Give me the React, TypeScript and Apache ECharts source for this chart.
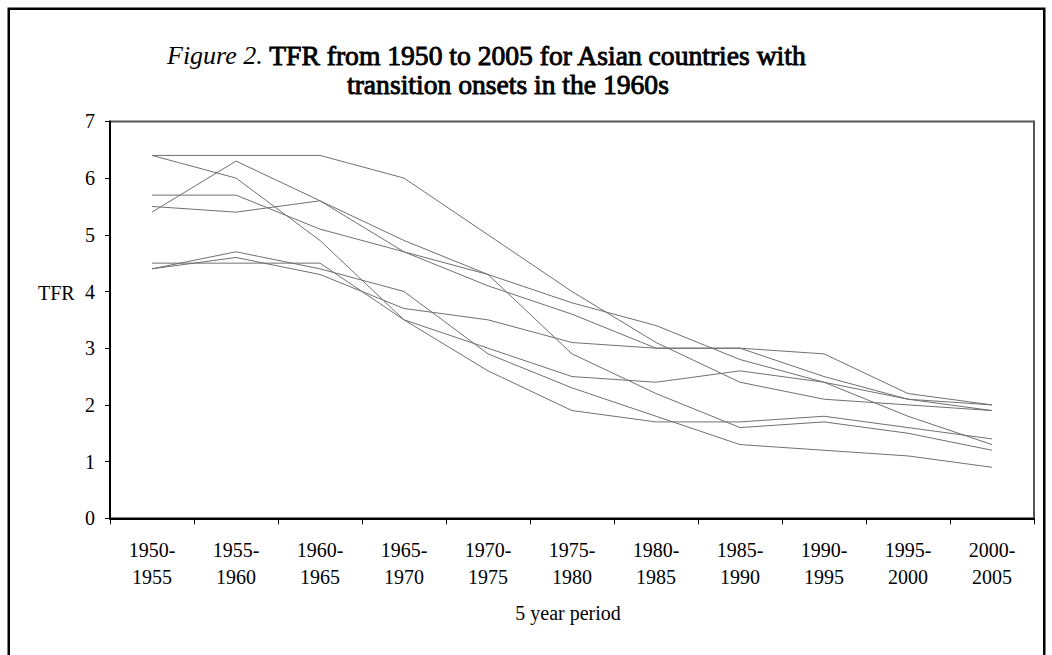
import React, { useEffect, useRef } from "react";
import * as echarts from "echarts";

const periods = [
  "1950-1955", "1955-1960", "1960-1965", "1965-1970", "1970-1975", "1975-1980",
  "1980-1985", "1985-1990", "1990-1995", "1995-2000", "2000-2005",
];
const yTicks = [0, 1, 2, 3, 4, 5, 6, 7];

const countryA = [6.4, 6.4, 6.4, 6.0, 5.0, 4.0, 3.1, 2.4, 2.1, 2.0, 1.9];
const countryB = [6.4, 6.0, 4.9, 3.5, 2.6, 1.9, 1.7, 1.7, 1.8, 1.6, 1.4];
const countryC = [5.4, 6.3, 5.6, 4.7, 4.3, 2.9, 2.2, 1.6, 1.7, 1.5, 1.2];
const countryD = [5.7, 5.7, 5.1, 4.7, 4.1, 3.6, 3.0, 3.0, 2.5, 2.1, 2.0];
const countryE = [5.5, 5.4, 5.6, 4.9, 4.3, 3.8, 3.4, 2.8, 2.4, 2.1, 1.9];
const countryF = [4.5, 4.5, 4.5, 3.5, 3.0, 2.5, 2.4, 2.6, 2.4, 1.8, 1.3];
const countryG = [4.4, 4.7, 4.4, 4.0, 2.9, 2.3, 1.8, 1.3, 1.2, 1.1, 0.9];
const countryH = [4.4, 4.6, 4.3, 3.7, 3.5, 3.1, 3.0, 3.0, 2.9, 2.2, 2.0];

const seriesList = [countryA, countryB, countryC, countryD, countryE, countryF, countryG, countryH];

const FONT = "'Liberation Serif', 'Times New Roman', serif";

export default function App() {
  const ref = useRef<HTMLDivElement>(null);
  useEffect(() => {
    if (!ref.current) return;
    const chart = echarts.init(ref.current, null, { renderer: "svg" });
    chart.setOption({
      animation: false,
      backgroundColor: "#fff",
      grid: {
        left: 110,
        right: 18,
        top: 121.4,
        bottom: 136.7,
        show: true,
        borderColor: "#555",
        borderWidth: 2,
      },
      xAxis: {
        type: "category",
        data: periods,
        boundaryGap: true,
        axisLine: { show: true, lineStyle: { color: "#000", width: 2 } },
        axisTick: { show: true, inside: false, length: 6, lineStyle: { color: "#000", width: 1 } },
        axisLabel: {
          interval: 0,
          margin: 18,
          fontFamily: FONT,
          fontSize: 20,
          lineHeight: 27,
          color: "#000",
          formatter: (v: string) => v.replace("-", "-\n"),
        },
        splitLine: { show: false },
      },
      yAxis: {
        type: "value",
        min: yTicks[0],
        max: yTicks[yTicks.length - 1],
        interval: 1,
        axisLine: { show: true, lineStyle: { color: "#000", width: 2 } },
        axisTick: { show: true, inside: false, length: 5, lineStyle: { color: "#000", width: 1 } },
        axisLabel: { margin: 15, fontFamily: FONT, fontSize: 20, color: "#000" },
        splitLine: { show: false },
      },
      series: seriesList.map((d, i) => ({
        type: "line",
        name: "s" + i,
        data: d,
        symbol: "none",
        lineStyle: { color: "#707070", width: 1 },
        silent: true,
      })),
      graphic: [
        {
          type: "rect",
          silent: true,
          z: 100,
          shape: { x: 8.75, y: 8.75, width: 1035.5, height: 700 },
          style: { fill: "none", stroke: "#000", lineWidth: 2.5 },
        },
        {
          type: "text",
          x: 167,
          y: 55,
          style: {
            text: "{i|Figure 2.}{b| TFR from 1950 to 2005 for Asian countries with}",
            verticalAlign: "middle",
            align: "left",
            fill: "#000",
            rich: {
              i: { fontFamily: FONT, fontSize: 26, fontStyle: "italic", fontWeight: "normal", fill: "#000" },
              b: { fontFamily: FONT, fontSize: 27.6, fontWeight: "normal", fill: "#000", stroke: "#000", lineWidth: 0.9 },
            },
          },
        },
        {
          type: "text",
          x: 347,
          y: 84,
          style: {
            text: "transition onsets in the 1960s",
            fontFamily: FONT,
            fontSize: 27.6,
            fontWeight: "normal",
            stroke: "#000",
            lineWidth: 0.9,
            verticalAlign: "middle",
            align: "left",
            fill: "#000",
          },
        },
        {
          type: "text",
          x: 38,
          y: 293,
          style: {
            text: "TFR",
            fontFamily: FONT,
            fontSize: 20,
            verticalAlign: "middle",
            align: "left",
            fill: "#000",
          },
        },
        {
          type: "text",
          x: 568,
          y: 613,
          style: {
            text: "5 year period",
            fontFamily: FONT,
            fontSize: 20,
            verticalAlign: "middle",
            align: "center",
            fill: "#000",
          },
        },
      ],
    });
    return () => chart.dispose();
  }, []);
  return (
    <div
      ref={ref}
      style={{ position: "fixed", left: 0, top: 0, width: 1052, height: 655, background: "#fff" }}
    />
  );
}
